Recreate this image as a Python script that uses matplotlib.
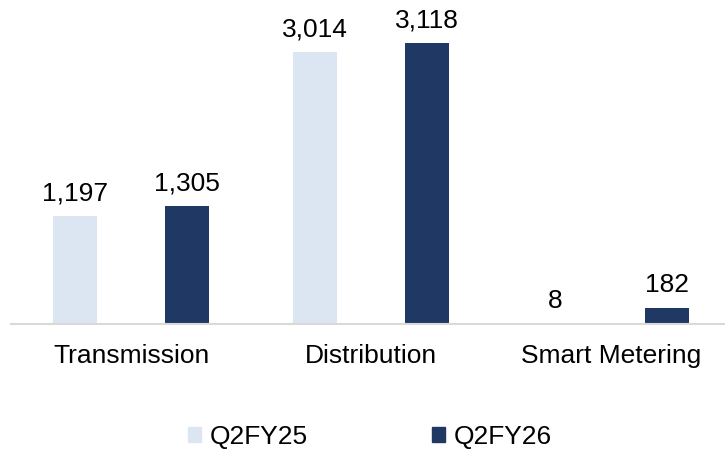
import matplotlib
matplotlib.use("Agg")
import matplotlib.pyplot as plt
import matplotlib.patches as patches
import numpy as np

plt.rcParams['font.family'] = ['Liberation Sans', 'DejaVu Sans']

# data
categories = ['Transmission', 'Distribution', 'Smart Metering']
series_names = ['Q2FY25', 'Q2FY26']
q2fy25 = [1197, 3014, 8]
q2fy26 = [1305, 3118, 182]

colors = ['#DCE6F2', '#1F3864']
fsize = 19

fig = plt.figure(figsize=(7.25, 4.5), dpi=100)
# axes runs a little past the right edge, like the original
ax = fig.add_axes([11 / 725, 1 - 324 / 450, 720 / 725, 324 / 450])

x = np.arange(len(categories))
offset = 0.233
width = 0.183
for vals, off, col in zip([q2fy25, q2fy26], [-offset, offset], colors):
    bars = ax.bar(x + off, vals, width=width, color=col)
    for b, v in zip(bars, vals):
        ax.annotate(f'{v:,}', (b.get_x() + b.get_width() / 2, b.get_height()),
                    xytext=(0, 7.5), textcoords='offset points',
                    ha='center', va='bottom', fontsize=fsize, color='black')

ax.set_xlim(-0.5, 2.5)
ax.set_ylim(0, 3595)
ax.set_xticks(x)
ax.set_xticklabels(categories, fontsize=fsize)
ax.tick_params(axis='x', length=0, pad=14.5)
ax.set_yticks([])
for side in ['top', 'right', 'left']:
    ax.spines[side].set_visible(False)
ax.spines['bottom'].set_color('#D9D9D9')
ax.spines['bottom'].set_linewidth(1.5)

handles = [patches.Patch(color=c) for c in colors]
fig.legend(handles, series_names, loc='center', bbox_to_anchor=(370 / 725, 1 - 437 / 450),
           ncol=2, frameon=False, fontsize=fsize, handlelength=0.48, handleheight=0.48,
           handletextpad=0.34, columnspacing=4.7)

fig.savefig('out.png', dpi=100)
